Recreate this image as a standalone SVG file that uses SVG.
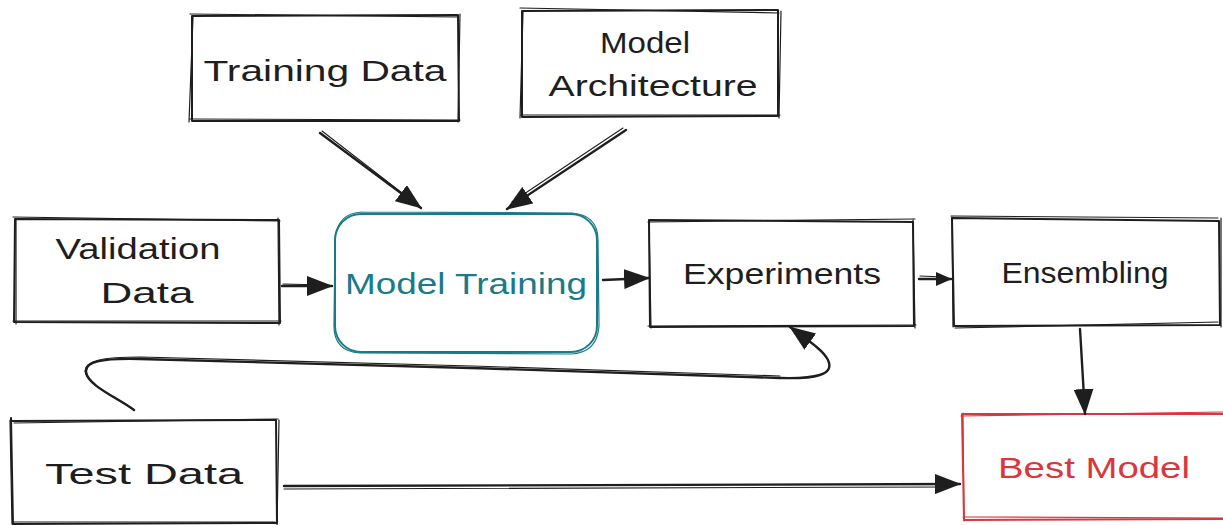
<svg xmlns="http://www.w3.org/2000/svg" width="1223" height="525" viewBox="0 0 1223 525">
<defs>
<style>
.sk{fill:none;stroke:#1e1e1e;stroke-width:2;stroke-linejoin:round;stroke-linecap:round}
.sk2{fill:none;stroke:#1e1e1e;stroke-width:1.2;stroke-linecap:round}
.teal{stroke:#1b7a89}
.red{stroke:#d9363e}
.ln{fill:none;stroke:#1e1e1e;stroke-width:2.4;stroke-linecap:round}
.ln2{fill:none;stroke:#1e1e1e;stroke-width:1.1;stroke-linecap:round}
text{font-family:"Liberation Sans",Arial,sans-serif;font-size:29px;fill:#1e1e1e;text-anchor:middle}
.tt{fill:#1b7a89}
.tr{fill:#d9363e}
</style>
<marker id="ah" viewBox="0 0 26 20" refX="25" refY="10" markerWidth="26" markerHeight="20" markerUnits="userSpaceOnUse" orient="auto">
<path d="M0,0 L26,10 L0,20 Z" fill="#1e1e1e"/>
</marker>
<marker id="ahs" viewBox="0 0 16 14" refX="15" refY="7" markerWidth="16" markerHeight="14" markerUnits="userSpaceOnUse" orient="auto">
<path d="M0,0 L16,7 L0,14 Z" fill="#1e1e1e"/>
</marker>
</defs>
<rect width="1223" height="525" fill="#ffffff"/>

<g id="training-data">
<path class="sk" d="M192,16 L458,15 L459,121 L192,121 Z"/>
<path class="sk2" d="M190,14 L457,17 M460,14 L458,122 M460,120 L190,119 M189,122 L193,17"/>
<text x="325" y="81" textLength="243" lengthAdjust="spacingAndGlyphs">Training Data</text>
</g>

<g id="model-architecture">
<path class="sk" d="M522,11 L778,10 L778,116 L522,117 Z"/>
<path class="sk2" d="M520,8 L779,13 M781,11 L779,118 M780,115 L521,115 M520,118 L523,12"/>
<text x="645" y="53" textLength="90" lengthAdjust="spacingAndGlyphs">Model</text>
<text x="653" y="96" textLength="209" lengthAdjust="spacingAndGlyphs">Architecture</text>
</g>

<g id="validation-data">
<path class="sk" d="M15,219 L279,220 L280,323 L14,322 Z"/>
<path class="sk2" d="M13,217 L280,221 M278,218 L279,325 M281,321 L13,321 M16,324 L16,219"/>
<text x="138" y="259" textLength="165" lengthAdjust="spacingAndGlyphs">Validation</text>
<text x="147" y="303" textLength="93" lengthAdjust="spacingAndGlyphs">Data</text>
</g>

<g id="model-training">
<rect class="sk teal" x="335" y="214" width="262" height="138" rx="26"/>
<path class="sk2 teal" d="M362,212 L572,213 Q598,215 598,240 L599,326 Q597,353 571,354 L360,353 Q333,351 334,324 L335,240 Q337,213 362,212"/>
<text class="tt" x="466" y="294" textLength="242" lengthAdjust="spacingAndGlyphs">Model Training</text>
</g>

<g id="experiments">
<path class="sk" d="M649,220 L913,222 L914,326 L650,327 Z"/>
<path class="sk2" d="M648,222 L915,219 M913,219 L915,328 M916,325 L648,326 M651,328 L649,221"/>
<text x="782" y="284" textLength="198" lengthAdjust="spacingAndGlyphs">Experiments</text>
</g>

<g id="ensembling">
<path class="sk" d="M952,218 L1219,221 L1220,325 L954,326 Z"/>
<path class="sk2" d="M951,216 L1218,218 M1221,218 L1221,327 M1218,322 L955,328 M953,327 L952,217"/>
<text x="1085" y="283" textLength="167" lengthAdjust="spacingAndGlyphs">Ensembling</text>
</g>

<g id="best-model">
<path class="sk red" d="M962,414 L1223,414 M1223,519 L964,520 L962,414"/>
<path class="sk2 red" d="M961,416 L1223,412 M1223,518 L963,517 M964,521 L963,413"/>
<text class="tr" x="1094" y="478" textLength="192" lengthAdjust="spacingAndGlyphs">Best Model</text>
</g>

<g id="test-data">
<path class="sk" d="M12,421 L276,420 L277,523 L13,524"/>
<path class="sk" d="M11,418 L13,525"/>
<path class="sk2" d="M14,423 L278,419 M279,420 L277,525 M275,522 L12,522 M10,420 L12,524"/>
<text x="144" y="484" textLength="198" lengthAdjust="spacingAndGlyphs">Test Data</text>
</g>

<g id="connectors">
<path class="ln" d="M320,133 L421,208" marker-end="url(#ah)"/>
<path class="ln2" d="M322,131 L415,203"/>
<path class="ln" d="M626,130 L507,209" marker-end="url(#ah)"/>
<path class="ln2" d="M623,128 L512,202"/>
<path class="ln" d="M282,286 L332,286" marker-end="url(#ah)"/>
<path class="ln2" d="M283,284 L325,285"/>
<path class="ln" d="M603,280 L649,278" marker-end="url(#ah)"/>
<path class="ln" d="M919,279 L951,279" marker-end="url(#ahs)"/>
<path class="ln2" d="M920,276 L945,277"/>
<path class="ln" d="M1080,329 L1085,414" marker-end="url(#ah)"/>
<path class="ln" d="M284,486 L960,484" marker-end="url(#ah)"/>
<path class="ln2" d="M284,489 L950,487"/>
<path class="ln" d="M134,410 C118,398 88,386 86,372 C85,362 100,358 140,359 C300,362 600,372 780,378 C815,379 835,375 828,360 C824,352 815,345 790,327" marker-end="url(#ah)"/>
<path class="ln2" d="M132,409 C116,396 86,385 85,371 C85,361 101,357 141,357 C300,360 600,370 780,376"/>
</g>
</svg>
